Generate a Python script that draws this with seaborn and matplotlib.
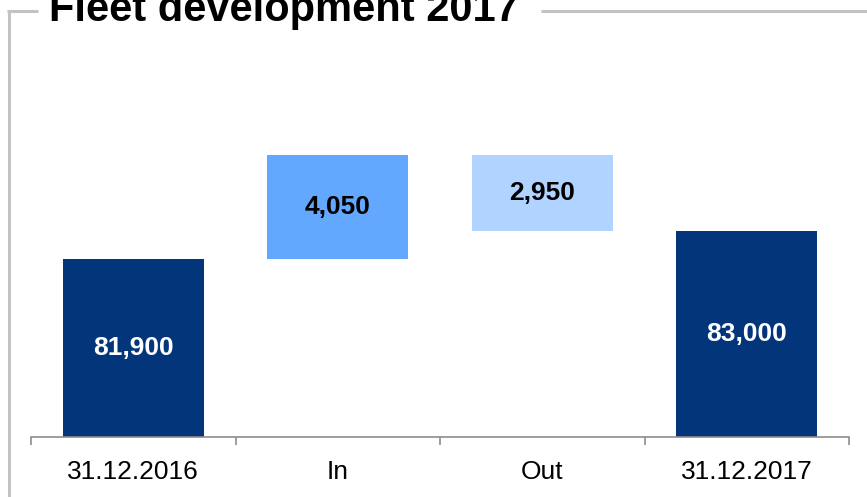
import matplotlib
matplotlib.use("Agg")
import matplotlib.pyplot as plt
from matplotlib.lines import Line2D
import seaborn as sns
import numpy as np

# Data
categories = ["31.12.2016", "In", "Out", "31.12.2017"]
start_value = 81900
inflow = 4050
outflow = 2950
end_value = 83000
label_values = [81900, 4050, 2950, 83000]
title_text = "Fleet development 2017"

colors = ["#02357a", "#62a8ff", "#b0d4ff", "#02357a"]

sns.set_theme(style="white")
plt.rcParams["font.family"] = ["Liberation Sans", "DejaVu Sans"]

fig = plt.figure(figsize=(8.67, 4.97), dpi=100)
W, H = 867, 497
y_low, y_high = 74950, 88000
ax = fig.add_axes([31 / W, (H - 437) / H, 818 / W, 334 / H])

bottoms = [0, start_value, start_value + inflow - outflow, 0]
heights = [start_value, inflow, outflow, end_value]

sns.barplot(x=categories, y=heights, bottom=bottoms, width=0.69,
            errorbar=None, linewidth=0, color=colors[0], saturation=1, ax=ax)
for patch, c in zip(ax.patches, colors):
    patch.set_facecolor(c)
    patch.set_edgecolor("none")

ax.set_xlim(-0.5, 3.5)
ax.set_ylim(y_low, y_high)

# value labels
for i, (b, h, v) in enumerate(zip(bottoms, heights, label_values)):
    lo = max(b, y_low)
    mid = (lo + b + h) / 2
    tc = "white" if i in (0, 3) else "black"
    ax.text(i, mid, f"{v:,}", ha="center", va="center", fontsize=19,
            fontweight="bold", color=tc)

for s in ["left", "right", "top"]:
    ax.spines[s].set_visible(False)
ax.spines["bottom"].set_color("#8c8c8c")
ax.spines["bottom"].set_linewidth(1.2)
ax.set_yticks([])
ax.set_xticks(range(len(categories)))
ax.set_xticklabels(categories, fontsize=19, color="black")
ax.set_xticks(np.arange(-0.5, len(categories), 1.0), minor=True)
ax.tick_params(axis="x", which="major", length=0, pad=16.5)
ax.tick_params(axis="x", which="minor", length=6, width=1.2, color="#8c8c8c",
               direction="out", bottom=True)
ax.set_xlabel("")
ax.set_ylabel("")

# frame lines
gc = "#c3c3c3"
lw = 2.2
fig.add_artist(Line2D([8.5 / W, 8.5 / W], [0, (H - 10.5) / H], color=gc, lw=lw,
                      transform=fig.transFigure, solid_capstyle="butt"))
fig.add_artist(Line2D([7 / W, 38 / W], [(H - 10.5) / H] * 2, color=gc, lw=lw,
                      transform=fig.transFigure, solid_capstyle="butt"))
fig.add_artist(Line2D([541 / W, 1.0], [(H - 10.5) / H] * 2, color=gc, lw=lw,
                      transform=fig.transFigure, solid_capstyle="butt"))

fig.text(49 / W, (H - 21.5) / H, title_text, fontsize=30, fontweight="bold",
         ha="left", va="baseline", color="black")

fig.savefig("out.png", dpi=100)
